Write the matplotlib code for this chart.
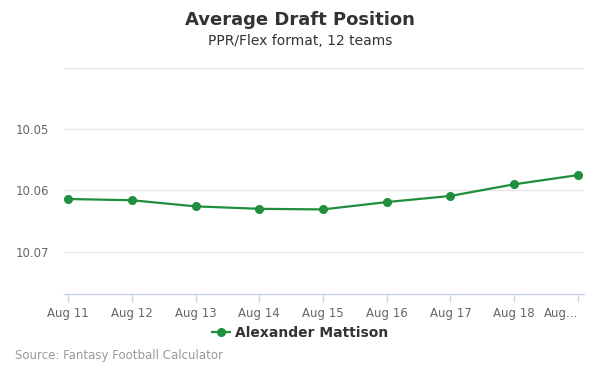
import matplotlib
matplotlib.use('Agg')
import matplotlib.pyplot as plt

# Datos
dates = ['Aug 11', 'Aug 12', 'Aug 13', 'Aug 14', 'Aug 15', 'Aug 16', 'Aug 17', 'Aug 18', 'Aug...']
adp = [10.0614, 10.0616, 10.0626, 10.0630, 10.0631, 10.0619, 10.0609, 10.0590, 10.0575]
yticks = [10.04, 10.05, 10.06, 10.07]
ytick_labels = ['', '10.05', '10.06', '10.07']

green = '#1f8e3d'
axis_col = '#ccd6eb'

fig = plt.figure(figsize=(6, 3.75), dpi=100)
ax = fig.add_axes([0.107, 0.216, 0.866, 0.603])

x = list(range(len(dates)))
ax.plot(x, adp, color=green, lw=1.6, marker='o', ms=5.5, zorder=3)

ax.set_xlim(-0.063, 8.094)
ax.set_ylim(10.0769, 10.04)
ax.set_yticks(yticks)
ax.set_yticklabels(ytick_labels)
ax.grid(axis='y', color='#e6e6e6', lw=1)
ax.set_axisbelow(True)

for s in ['top', 'right', 'left']:
    ax.spines[s].set_visible(False)
ax.spines['bottom'].set_color(axis_col)
ax.spines['bottom'].set_linewidth(1)

ax.set_xticks(x)
ax.set_xticklabels(dates)
ax.tick_params(axis='x', colors=axis_col, length=6, width=1, labelcolor='#666666', labelsize=8.5, pad=3)
ax.tick_params(axis='y', length=0, labelcolor='#666666', labelsize=8.5, pad=11)
ax.get_xticklabels()[-1].set_ha('right')

fig.text(0.5, 0.947, 'Average Draft Position', ha='center', va='center',
         fontsize=13, fontweight='bold', color='#333333')
fig.text(0.5, 0.891, 'PPR/Flex format, 12 teams', ha='center', va='center',
         fontsize=10, color='#333333')

leg = ax.legend(['Alexander Mattison'], loc='center', bbox_to_anchor=(0.5, 0.113),
                bbox_transform=fig.transFigure, frameon=False, handlelength=1.3,
                handletextpad=0.4, prop={'weight': 'bold', 'size': 10})
for t in leg.get_texts():
    t.set_color('#333333')

fig.text(0.025, 0.051, 'Source: Fantasy Football Calculator', ha='left', va='center',
         fontsize=8.5, color='#999999')

fig.savefig('out.png', dpi=100)
